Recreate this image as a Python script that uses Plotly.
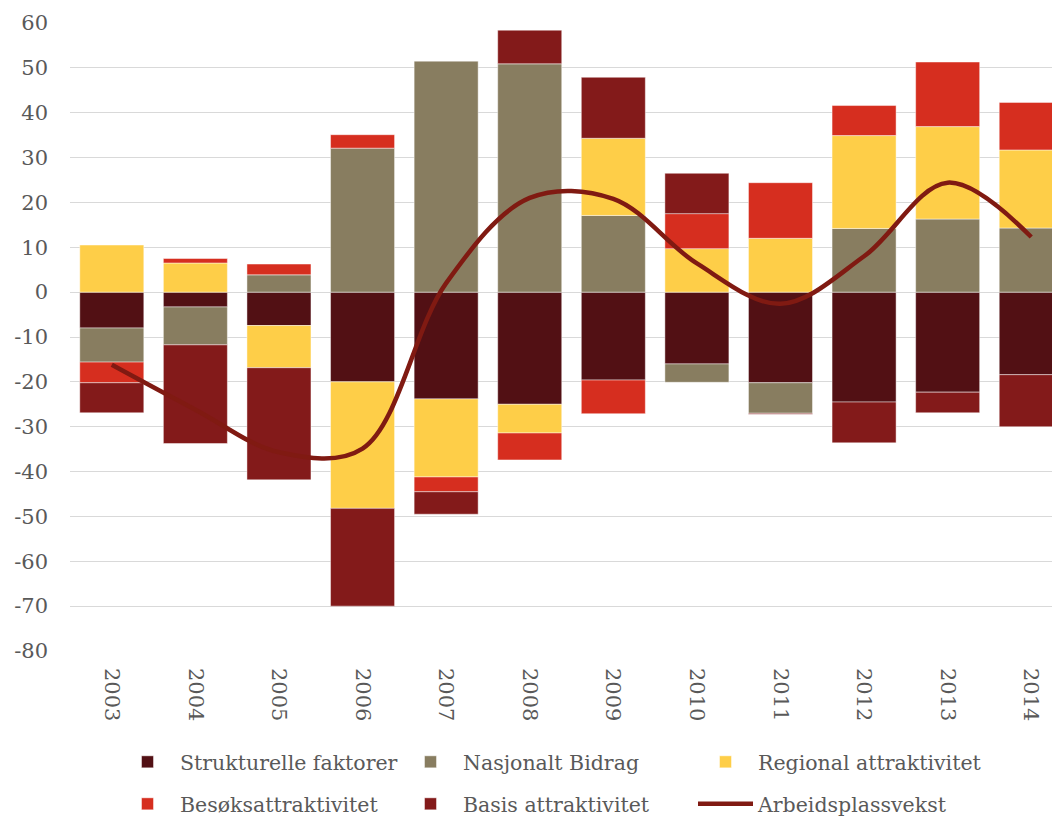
import plotly.graph_objects as go

years = ["2003", "2004", "2005", "2006", "2007", "2008", "2009", "2010", "2011", "2012", "2013", "2014"]

strukturelle = [-8.0, -3.3, -7.45, -20.0, -23.8, -25.0, -19.6, -16.0, -20.2, -24.5, -22.3, -18.4]
nasjonalt = [-7.6, -8.45, 3.86, 32.1, 51.5, 50.9, 17.1, -4.1, -6.8, 14.2, 16.3, 14.3]
regional = [10.5, 6.5, -9.4, -28.2, -17.4, -6.4, 17.2, 9.7, 12.0, 20.7, 20.6, 17.4]
besok = [-4.6, 1.0, 2.4, 3.0, -3.3, -6.0, -7.5, 7.8, 12.4, 6.7, 14.4, 10.6]
basis = [-6.7, -22.0, -25.0, -21.8, -5.0, 7.5, 13.6, 9.0, -0.2, -9.1, -4.6, -11.6]
arbeidsplassvekst = [-16.2, -26.2, -35.7, -34.9, 2.0, 21.0, 20.8, 6.4, -2.6, 8.0, 24.4, 12.3]

y_tickvals = [-80, -70, -60, -50, -40, -30, -20, -10, 0, 10, 20, 30, 40, 50, 60]
y_ticktext = ["-80", "-70", "-60", "-50", "-40", "-30", "-20", "-10", "0", "10", "20", "30", "40", "50", "60"]

FONT = "DejaVu Serif"
TXT = "#595959"

# The page body has an 8px margin: the figure is sized so that it ends at the window edge.
W, H = 1052, 809

fig = go.Figure()
bar_series = [
    ("Strukturelle faktorer", strukturelle, "#521014", "legend"),
    ("Nasjonalt Bidrag", nasjonalt, "#887D60", "legend2"),
    ("Regional attraktivitet", regional, "#FECE48", "legend3"),
    ("Besøksattraktivitet", besok, "#D62E1F", "legend4"),
    ("Basis attraktivitet", basis, "#831A1A", "legend5"),
]
for name, vals, col, lg in bar_series:
    fig.add_trace(go.Bar(
        x=years, y=vals, name=name, legend=lg, showlegend=True,
        marker=dict(color=col, line=dict(color="rgba(255,255,255,0.45)", width=1)),
    ))

fig.add_trace(go.Scatter(
    x=years, y=arbeidsplassvekst, name="Arbeidsplassvekst", legend="legend6", showlegend=True,
    mode="lines", line=dict(color="#801A12", width=4.5, shape="spline", smoothing=1.0),
))

# legend placement (page pixels of text start / row centre)
col_text_x = [180, 463, 758]
row_y = [762, 804]
ITEMW = 55


def legend_cfg(col, row):
    x0 = col_text_x[col] - (ITEMW + 10) - 8
    yc = row_y[row] - 8
    return dict(
        visible=True,
        orientation="h", xref="container", yref="container",
        x=x0 / W, xanchor="left", y=1 - yc / H, yanchor="middle",
        itemwidth=ITEMW, traceorder="normal",
        font=dict(family=FONT, size=20.5, color=TXT), bgcolor="rgba(0,0,0,0)",
    )


fig.update_layout(
    width=W, height=H,
    showlegend=True,
    margin=dict(l=62, r=0, t=15, b=166),
    paper_bgcolor="white", plot_bgcolor="white",
    barmode="relative", bargap=0.234,
    font=dict(family=FONT, size=21, color=TXT),
    xaxis=dict(
        type="category", range=[-0.5, 11.344], tickangle=90,
        showgrid=False, zeroline=False, showline=False, ticks="",
        ticklabelstandoff=16, tickfont=dict(family=FONT, size=21, color=TXT),
    ),
    yaxis=dict(
        range=[-80, 60], tickvals=y_tickvals, ticktext=y_ticktext,
        showgrid=True, gridcolor="#D9D9D9", gridwidth=1.3,
        zeroline=True, zerolinecolor="#D9D9D9", zerolinewidth=1.3,
        showline=False, ticks="", ticklabelstandoff=21,
        tickfont=dict(family=FONT, size=21, color=TXT),
    ),
    legend=legend_cfg(0, 0),
    legend2=legend_cfg(1, 0),
    legend3=legend_cfg(2, 0),
    legend4=legend_cfg(0, 1),
    legend5=legend_cfg(1, 1),
    legend6=legend_cfg(2, 1),
)

fig.write_html("out.html")
